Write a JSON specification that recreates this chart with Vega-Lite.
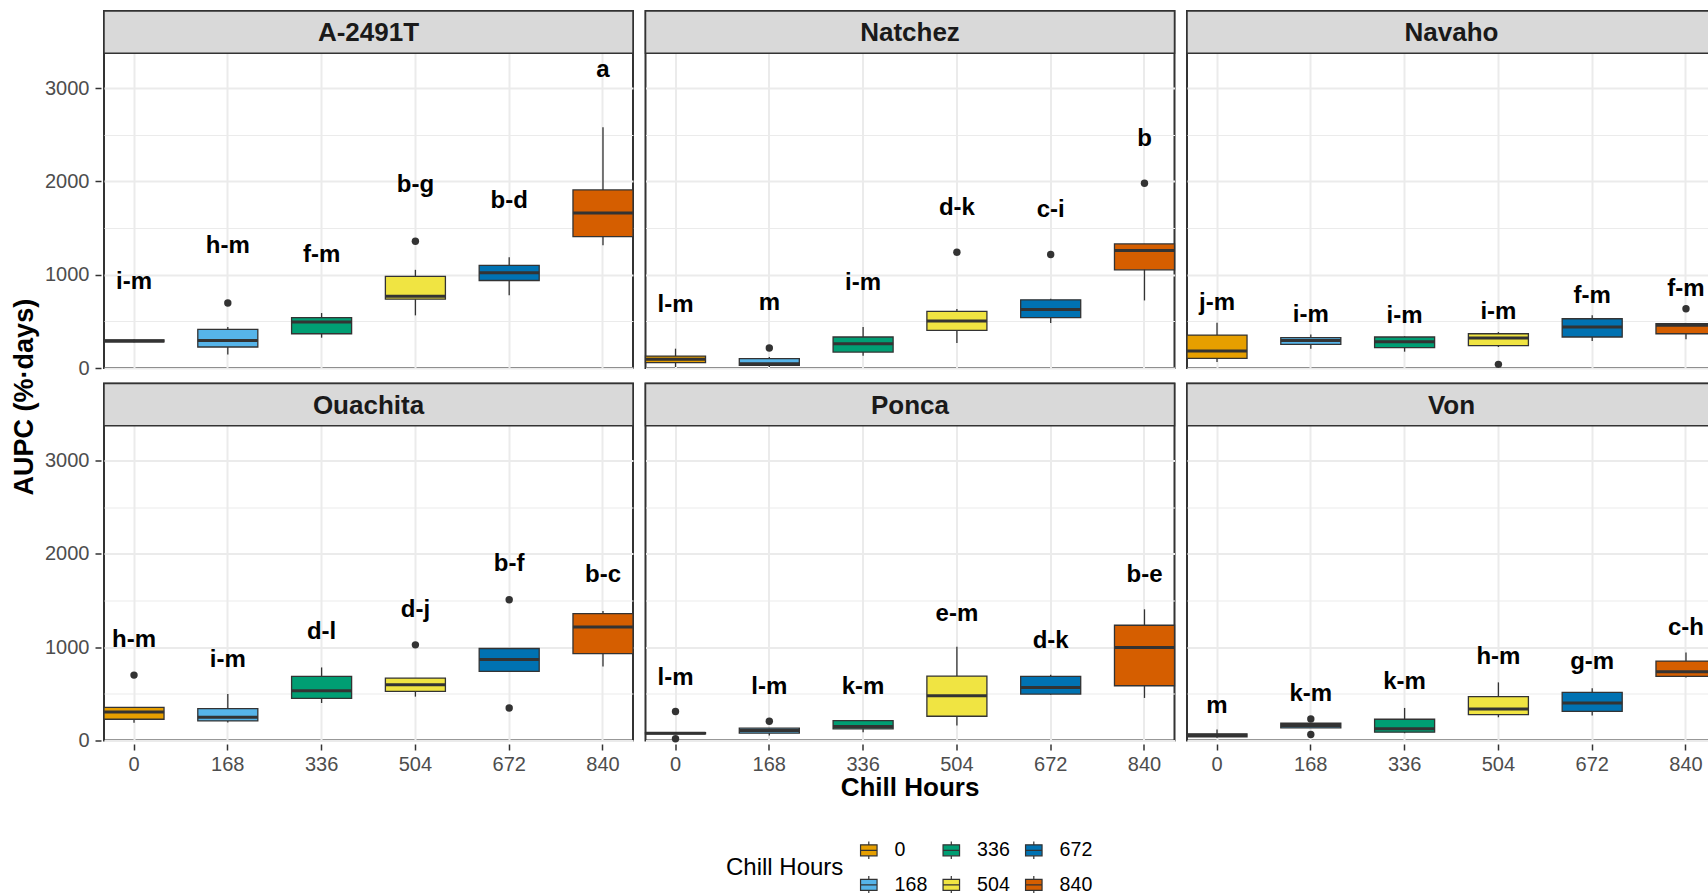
{
  "$schema": "https://vega.github.io/schema/vega-lite/v6.json",
  "background": "white",
  "padding": {"left": 10, "top": 9, "right": 0, "bottom": 0},
  "config": {
    "font": "Liberation Sans",
    "view": {"stroke": "#333333", "strokeWidth": 2},
    "axis": {"labelFont": "Liberation Sans", "titleFont": "Liberation Sans"}
  },
  "title": {"text": "AUPC (%·days)", "orient": "left", "anchor": "middle", "fontSize": 27, "fontWeight": "bold", "color": "#000000", "offset": 6, "dx": 56, "font": "Liberation Sans"},
  "data": {"values": [
    {"kind": "strip", "cultivar": "A-2491T"},
    {"kind": "strip", "cultivar": "Natchez"},
    {"kind": "strip", "cultivar": "Navaho"},
    {"kind": "strip", "cultivar": "Ouachita"},
    {"kind": "strip", "cultivar": "Ponca"},
    {"kind": "strip", "cultivar": "Von"},

    {"kind": "box", "cultivar": "A-2491T", "hours": 0, "lo": 275, "q1": 280, "med": 290, "q3": 300, "hi": 305, "letter": "i-m", "ly": 927},
    {"kind": "box", "cultivar": "A-2491T", "hours": 168, "lo": 146, "q1": 225, "med": 296, "q3": 414, "hi": 439, "letter": "h-m", "ly": 1305},
    {"kind": "box", "cultivar": "A-2491T", "hours": 336, "lo": 325, "q1": 367, "med": 492, "q3": 539, "hi": 589, "letter": "f-m", "ly": 1206},
    {"kind": "box", "cultivar": "A-2491T", "hours": 504, "lo": 564, "q1": 738, "med": 770, "q3": 981, "hi": 1052, "letter": "b-g", "ly": 1962},
    {"kind": "box", "cultivar": "A-2491T", "hours": 672, "lo": 781, "q1": 938, "med": 1020, "q3": 1099, "hi": 1188, "letter": "b-d", "ly": 1794},
    {"kind": "box", "cultivar": "A-2491T", "hours": 840, "lo": 1316, "q1": 1409, "med": 1662, "q3": 1908, "hi": 2579, "letter": "a", "ly": 3196},

    {"kind": "box", "cultivar": "Natchez", "hours": 0, "lo": 11, "q1": 57, "med": 93, "q3": 128, "hi": 207, "letter": "l-m", "ly": 678},
    {"kind": "box", "cultivar": "Natchez", "hours": 168, "lo": 11, "q1": 29, "med": 46, "q3": 100, "hi": 118, "letter": "m", "ly": 696},
    {"kind": "box", "cultivar": "Natchez", "hours": 336, "lo": 132, "q1": 171, "med": 260, "q3": 332, "hi": 439, "letter": "i-m", "ly": 909},
    {"kind": "box", "cultivar": "Natchez", "hours": 504, "lo": 268, "q1": 403, "med": 503, "q3": 606, "hi": 631, "letter": "d-k", "ly": 1719},
    {"kind": "box", "cultivar": "Natchez", "hours": 672, "lo": 482, "q1": 539, "med": 628, "q3": 731, "hi": 742, "letter": "c-i", "ly": 1694},
    {"kind": "box", "cultivar": "Natchez", "hours": 840, "lo": 724, "q1": 1052, "med": 1259, "q3": 1330, "hi": 1330, "letter": "b", "ly": 2454},

    {"kind": "box", "cultivar": "Navaho", "hours": 0, "lo": 64, "q1": 103, "med": 182, "q3": 353, "hi": 485, "letter": "j-m", "ly": 696},
    {"kind": "box", "cultivar": "Navaho", "hours": 168, "lo": 207, "q1": 253, "med": 296, "q3": 325, "hi": 360, "letter": "i-m", "ly": 571},
    {"kind": "box", "cultivar": "Navaho", "hours": 336, "lo": 175, "q1": 218, "med": 282, "q3": 332, "hi": 339, "letter": "i-m", "ly": 553},
    {"kind": "box", "cultivar": "Navaho", "hours": 504, "lo": 225, "q1": 239, "med": 321, "q3": 367, "hi": 385, "letter": "i-m", "ly": 599},
    {"kind": "box", "cultivar": "Navaho", "hours": 672, "lo": 289, "q1": 332, "med": 439, "q3": 528, "hi": 564, "letter": "f-m", "ly": 774},
    {"kind": "box", "cultivar": "Navaho", "hours": 840, "lo": 307, "q1": 367, "med": 457, "q3": 474, "hi": 482, "letter": "f-m", "ly": 849},

    {"kind": "box", "cultivar": "Ouachita", "hours": 0, "lo": 189, "q1": 228, "med": 306, "q3": 356, "hi": 356, "letter": "h-m", "ly": 1075},
    {"kind": "box", "cultivar": "Ouachita", "hours": 168, "lo": 192, "q1": 210, "med": 249, "q3": 342, "hi": 498, "letter": "i-m", "ly": 868},
    {"kind": "box", "cultivar": "Ouachita", "hours": 336, "lo": 402, "q1": 452, "med": 534, "q3": 687, "hi": 783, "letter": "d-l", "ly": 1160},
    {"kind": "box", "cultivar": "Ouachita", "hours": 504, "lo": 470, "q1": 527, "med": 598, "q3": 669, "hi": 669, "letter": "d-j", "ly": 1395},
    {"kind": "box", "cultivar": "Ouachita", "hours": 672, "lo": 740, "q1": 740, "med": 868, "q3": 986, "hi": 986, "letter": "b-f", "ly": 1893},
    {"kind": "box", "cultivar": "Ouachita", "hours": 840, "lo": 794, "q1": 932, "med": 1217, "q3": 1360, "hi": 1388, "letter": "b-c", "ly": 1769},

    {"kind": "box", "cultivar": "Ponca", "hours": 0, "lo": 70, "q1": 70, "med": 78, "q3": 85, "hi": 85, "letter": "l-m", "ly": 666},
    {"kind": "box", "cultivar": "Ponca", "hours": 168, "lo": 53, "q1": 78, "med": 107, "q3": 132, "hi": 132, "letter": "l-m", "ly": 569},
    {"kind": "box", "cultivar": "Ponca", "hours": 336, "lo": 89, "q1": 125, "med": 149, "q3": 214, "hi": 221, "letter": "k-m", "ly": 577},
    {"kind": "box", "cultivar": "Ponca", "hours": 504, "lo": 160, "q1": 260, "med": 480, "q3": 690, "hi": 1004, "letter": "e-m", "ly": 1360},
    {"kind": "box", "cultivar": "Ponca", "hours": 672, "lo": 491, "q1": 498, "med": 569, "q3": 687, "hi": 705, "letter": "d-k", "ly": 1068},
    {"kind": "box", "cultivar": "Ponca", "hours": 840, "lo": 456, "q1": 587, "med": 997, "q3": 1235, "hi": 1406, "letter": "b-e", "ly": 1769},

    {"kind": "box", "cultivar": "Von", "hours": 0, "lo": 30, "q1": 40, "med": 55, "q3": 70, "hi": 117, "letter": "m", "ly": 367},
    {"kind": "box", "cultivar": "Von", "hours": 168, "lo": 135, "q1": 135, "med": 160, "q3": 185, "hi": 185, "letter": "k-m", "ly": 498},
    {"kind": "box", "cultivar": "Von", "hours": 336, "lo": 78, "q1": 89, "med": 125, "q3": 228, "hi": 349, "letter": "k-m", "ly": 623},
    {"kind": "box", "cultivar": "Von", "hours": 504, "lo": 249, "q1": 278, "med": 338, "q3": 470, "hi": 623, "letter": "h-m", "ly": 890},
    {"kind": "box", "cultivar": "Von", "hours": 672, "lo": 267, "q1": 313, "med": 402, "q3": 516, "hi": 559, "letter": "g-m", "ly": 836},
    {"kind": "box", "cultivar": "Von", "hours": 840, "lo": 676, "q1": 687, "med": 737, "q3": 851, "hi": 943, "letter": "c-h", "ly": 1210},

    {"kind": "out", "cultivar": "A-2491T", "hours": 168, "value": 696},
    {"kind": "out", "cultivar": "A-2491T", "hours": 504, "value": 1359},
    {"kind": "out", "cultivar": "Natchez", "hours": 168, "value": 214},
    {"kind": "out", "cultivar": "Natchez", "hours": 504, "value": 1241},
    {"kind": "out", "cultivar": "Natchez", "hours": 672, "value": 1216},
    {"kind": "out", "cultivar": "Natchez", "hours": 840, "value": 1980},
    {"kind": "out", "cultivar": "Navaho", "hours": 504, "value": 39},
    {"kind": "out", "cultivar": "Navaho", "hours": 840, "value": 635},
    {"kind": "out", "cultivar": "Ouachita", "hours": 0, "value": 701},
    {"kind": "out", "cultivar": "Ouachita", "hours": 504, "value": 1025},
    {"kind": "out", "cultivar": "Ouachita", "hours": 672, "value": 1509},
    {"kind": "out", "cultivar": "Ouachita", "hours": 672, "value": 349},
    {"kind": "out", "cultivar": "Ponca", "hours": 0, "value": 310},
    {"kind": "out", "cultivar": "Ponca", "hours": 0, "value": 18},
    {"kind": "out", "cultivar": "Ponca", "hours": 168, "value": 206},
    {"kind": "out", "cultivar": "Von", "hours": 168, "value": 231},
    {"kind": "out", "cultivar": "Von", "hours": 168, "value": 64}
  ]},
  "facet": {
    "field": "cultivar", "type": "nominal",
    "header": {"title": "Chill Hours", "titleOrient": "bottom", "labelExpr": "''", "labelFontSize": 0, "labelPadding": 0, "titleFontSize": 26, "titleFontWeight": "bold", "titleColor": "#000000", "titleFont": "Liberation Sans", "titlePadding": 1}
  },
  "columns": 3,
  "spacing": {"row": 9.5, "column": 6.5},
  "spec": {
    "width": 529,
    "height": 357,
    "layer": [
      {
        "transform": [{"filter": "datum.kind === 'box'"}],
        "mark": {"type": "rule", "color": "#333333", "strokeWidth": 1.3},
        "encoding": {
          "x": {"field": "hours", "type": "ordinal", "title": null,
            "scale": {"type": "band", "paddingInner": 0.36, "paddingOuter": 0},
            "axis": {"title": null, "labelAngle": 0, "grid": true, "gridColor": "#EBEBEB", "gridWidth": 2, "domain": false, "tickColor": "#333333", "tickSize": 6, "tickWidth": 1.5, "labelFontSize": 20, "labelColor": "#4D4D4D", "labelPadding": 4, "labelFont": "Liberation Sans"}},
          "y": {"field": "lo", "type": "quantitative", "title": null,
            "scale": {"domain": [0, 3826], "nice": false, "zero": true},
            "axis": {"title": null, "values": [0, 500, 1000, 1500, 2000, 2500, 3000], "format": "d",
              "labelExpr": "datum.value % 1000 === 0 ? datum.label : ''",
              "grid": true, "gridColor": "#EBEBEB",
              "gridWidth": {"condition": {"test": "datum.value % 1000 !== 0", "value": 1}, "value": 2},
              "tickOpacity": {"condition": {"test": "datum.value % 1000 !== 0", "value": 0}, "value": 1},
              "domain": false, "tickColor": "#333333", "tickSize": 6, "tickWidth": 1.5,
              "labelFontSize": 20, "labelColor": "#4D4D4D", "labelPadding": 6, "labelFont": "Liberation Sans"}},
          "y2": {"field": "hi"}
        }
      },
      {
        "transform": [{"filter": "datum.kind === 'box'"}],
        "mark": {"type": "bar", "stroke": "#333333", "strokeWidth": 1.3},
        "encoding": {
          "x": {"field": "hours", "type": "ordinal", "title": null},
          "y": {"field": "q1", "type": "quantitative", "title": null},
          "y2": {"field": "q3"},
          "color": {"field": "hours", "type": "ordinal",
            "scale": {"domain": [0, 336, 672, 168, 504, 840], "range": ["#E69F00", "#009E73", "#0072B2", "#56B4E9", "#F0E442", "#D55E00"]},
            "legend": {"title": "Chill Hours", "orient": "none", "legendX": 622, "legendY": 829,
              "direction": "horizontal", "columns": 3, "titleOrient": "left", "titleAnchor": "middle", "titleBaseline": "middle",
              "titleFontSize": 24, "titleFontWeight": "normal", "titleColor": "#000000", "titleFont": "Liberation Sans", "titlePadding": 15,
              "labelFontSize": 19.6, "labelColor": "#000000", "labelFont": "Liberation Sans", "labelOffset": 16,
              "columnPadding": 12.5, "rowPadding": 11,
              "symbolType": "M-0.9375,-0.625H0.9375V0.625H-0.9375Z M-0.9375,0H0.9375 M0,-0.625V-1 M0,0.625V1",
              "symbolSize": 310, "symbolStrokeColor": "#333333", "symbolStrokeWidth": 1.2, "symbolOpacity": 1}}
        }
      },
      {
        "transform": [{"filter": "datum.kind === 'box'"}],
        "mark": {"type": "bar", "fill": "transparent", "stroke": "#333333", "strokeWidth": 3},
        "encoding": {
          "x": {"field": "hours", "type": "ordinal", "title": null},
          "y": {"field": "med", "type": "quantitative", "title": null},
          "y2": {"field": "med"}
        }
      },
      {
        "transform": [{"filter": "datum.kind === 'out'"}],
        "mark": {"type": "point", "filled": true, "color": "#333333", "size": 55, "opacity": 1},
        "encoding": {
          "x": {"field": "hours", "type": "ordinal", "title": null},
          "y": {"field": "value", "type": "quantitative", "title": null}
        }
      },
      {
        "transform": [{"filter": "datum.kind === 'box'"}],
        "mark": {"type": "text", "fontSize": 24, "fontWeight": "bold", "color": "#000000", "baseline": "middle", "font": "Liberation Sans"},
        "encoding": {
          "x": {"field": "hours", "type": "ordinal", "title": null},
          "y": {"field": "ly", "type": "quantitative", "title": null},
          "text": {"field": "letter"}
        }
      },
      {
        "transform": [{"filter": "datum.kind === 'strip'"}],
        "mark": {"type": "rect", "fill": "#D9D9D9", "stroke": "#333333", "strokeWidth": 1.5},
        "encoding": {
          "y": {"datum": 3373, "type": "quantitative", "title": null},
          "y2": {"datum": 3826}
        }
      },
      {
        "transform": [{"filter": "datum.kind === 'strip'"}],
        "mark": {"type": "text", "fontSize": 26, "fontWeight": "bold", "color": "#1A1A1A", "baseline": "middle", "font": "Liberation Sans"},
        "encoding": {
          "y": {"datum": 3585, "type": "quantitative", "title": null},
          "text": {"field": "cultivar"}
        }
      }
    ]
  }
}
